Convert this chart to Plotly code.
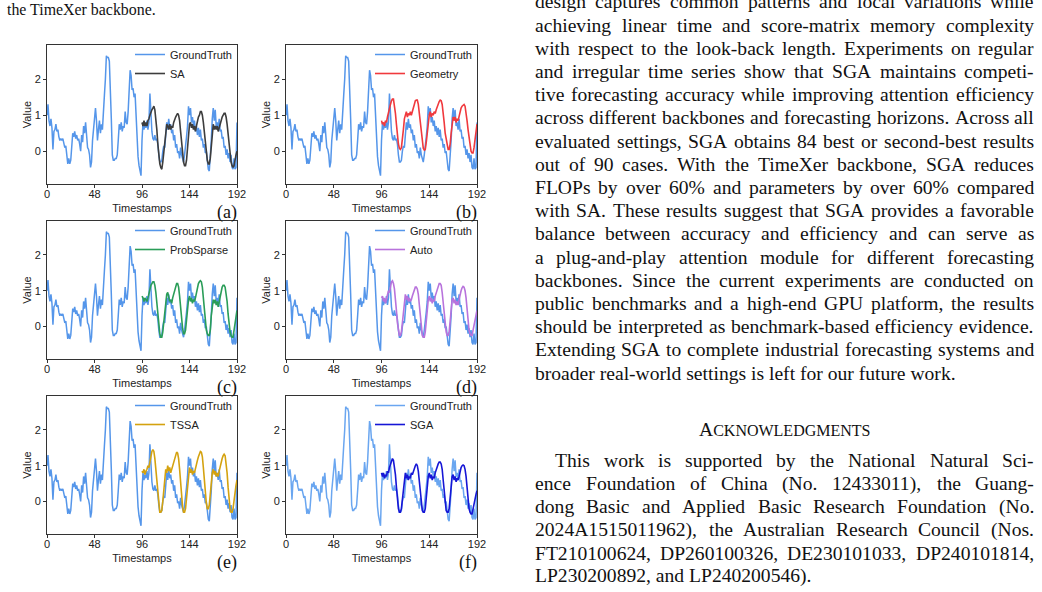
import plotly.graph_objects as go

W, H = 1042, 592

# ---------------- data ----------------
t_all = list(range(0, 193))
t_fc = list(range(96, 193))

ground_truth = [
    1.0, 1.3, 0.85, 0.7, 0.9, 0.65, 0.05, 0.55, 0.6, 0.75,
    0.55, 0.6, 0.4, 0.3, 0.35, 0.3, 0.35, 0.25, 0.1, 0.15,
    -0.05, -0.35, -0.2, -0.35, -0.25, 0.1, 0.5, 0.4, 0.55, 0.35,
    0.45, 0.3, 0.35, 0.2, 0.0, 0.45, 0.25, 0.7, 0.5, 0.8,
    0.35, 0.1, 0.05, -0.1, -0.45, -0.3, 0.3, 0.55, 0.95, 1.2,
    0.85, 0.3, 0.6, 0.85, 0.5, 0.75, 0.6, 1.3, 1.55, 2.0,
    2.65, 2.6, 2.6, 2.5, 1.9, 0.9, -0.1, -0.25, -0.25, -0.2,
    -0.2, -0.1, 0.3, 0.75, 0.6, 0.8, 0.55, 0.7, 0.65, 1.1,
    0.8, 0.75, 1.1, 1.6, 2.25, 2.1, 1.7, 1.75, 1.5, 1.6,
    0.9, 0.3, -0.15, -0.4, -0.6, -0.68,
    0.3, 0.8, 0.6, 0.75, 0.65, 0.85, 0.6, 0.8, 1.6, 1.0,
    0.55, 0.35, 0.3, 0.45, 0.3, 0.35, 0.2, -0.1, -0.3, -0.3,
    -0.25, 0.0, 0.15, 0.1, 0.55, 0.8, 0.6, 0.9, 0.65, 0.75,
    0.5, 0.6, 0.3, 0.45, 0.1, 0.2, -0.05, 0.0, -0.2, 0.1,
    -0.1, -0.25, -0.3, -0.1, 0.1, 0.4, 0.7, 1.25, 1.0, 1.2,
    0.8, 0.95, 0.7, 0.85, 0.55, 0.7, 0.45, 0.65, 0.4, 0.6,
    0.3, 0.35, 0.1, 0.2, -0.05, 0.0, -0.25, -0.5, -0.55, -0.2,
    0.3, 0.9, 1.2, 0.85, 1.15, 0.7, 0.8, 0.6, 0.9, 0.55,
    0.6, 0.35, 0.4, 0.1, 0.15, -0.1, 0.05, -0.2, -0.05, -0.3,
    -0.1, -0.45, -0.5, -0.2, -0.5, -0.45, 0.8,
]

sa_pred = [
    0.8, 0.7, 0.85, 0.7, 0.8, 0.7, 0.85, 0.9, 1.0, 1.1, 1.15, 1.2,
    1.25, 1.15, 0.95, 0.6, 0.2, -0.15, -0.35, -0.45, -0.5, -0.3, 0.0, 0.35,
    0.55, 0.75, 0.7, 0.6, 0.75, 0.6, 0.7, 0.65, 0.8, 0.9, 0.95, 1.0,
    1.05, 1.0, 0.85, 0.55, 0.2, -0.1, -0.3, -0.4, -0.4, -0.25, 0.1, 0.45,
    0.75, 0.8, 0.65, 0.75, 0.6, 0.7, 0.55, 0.7, 0.85, 0.95, 1.0, 1.1,
    1.1, 1.0, 0.8, 0.5, 0.15, -0.1, -0.25, -0.35, -0.35, -0.2, 0.2, 0.55,
    0.75, 0.6, 0.7, 0.6, 0.7, 0.55, 0.65, 0.8, 0.9, 0.95, 1.0, 1.05,
    1.05, 0.95, 0.75, 0.45, 0.1, -0.15, -0.3, -0.4, -0.45, -0.4, -0.2, -0.1,
    0.0,
]

geometry_pred = [
    0.85, 0.75, 0.8, 0.7, 0.85, 0.8, 0.95, 1.1, 1.15, 1.3, 1.4, 1.45,
    1.45, 1.3, 1.05, 0.75, 0.45, 0.2, 0.08, 0.05, 0.1, 0.3, 0.6, 0.9,
    1.0, 1.1, 0.95, 1.05, 1.0, 1.1, 1.0, 1.15, 1.2, 1.3, 1.4, 1.42,
    1.42, 1.3, 1.05, 0.75, 0.45, 0.2, 0.08, 0.03, 0.05, 0.25, 0.55, 0.85,
    1.0, 1.1, 0.95, 1.05, 1.0, 1.1, 1.05, 1.15, 1.25, 1.3, 1.38, 1.42,
    1.4, 1.3, 1.1, 0.8, 0.5, 0.3, 0.15, 0.05, 0.05, 0.2, 0.5, 0.8,
    0.95, 0.85, 0.95, 0.8, 0.9, 0.85, 1.0, 1.1, 1.2, 1.25, 1.28, 1.3,
    1.25, 1.1, 0.85, 0.6, 0.35, 0.15, 0.0, -0.05, -0.05, 0.1, 0.35, 0.55,
    0.75,
]

probsparse_pred = [
    0.85, 0.8, 0.7, 0.8, 0.75, 0.7, 0.8, 0.95, 1.05, 1.15, 1.2, 1.25,
    1.25, 1.15, 0.95, 0.65, 0.3, 0.0, -0.2, -0.3, -0.3, -0.15, 0.15, 0.5,
    0.75, 0.9, 0.95, 0.85, 0.7, 0.75, 0.65, 0.8, 0.9, 1.05, 1.15, 1.2,
    1.2, 1.1, 0.85, 0.5, 0.15, -0.05, -0.2, -0.2, -0.1, 0.2, 0.5, 0.75,
    0.85, 0.7, 0.8, 0.65, 0.75, 0.7, 0.8, 0.95, 1.1, 1.2, 1.25, 1.28,
    1.25, 1.1, 0.8, 0.45, 0.1, -0.1, -0.2, -0.25, -0.25, -0.1, 0.3, 0.6,
    0.75, 0.65, 0.75, 0.6, 0.7, 0.55, 0.7, 0.85, 1.0, 1.1, 1.15, 1.15,
    1.1, 0.95, 0.7, 0.35, 0.05, -0.15, -0.25, -0.3, -0.3, -0.1, 0.1, 0.25,
    0.45,
]

auto_pred = [
    0.8, 0.85, 0.7, 0.8, 0.65, 0.75, 0.85, 1.0, 0.95, 1.15, 1.25, 1.28,
    1.2, 1.05, 0.8, 0.45, 0.1, -0.1, -0.25, -0.25, -0.15, 0.1, 0.4, 0.7,
    0.9, 0.75, 0.85, 0.7, 0.8, 0.7, 0.75, 0.85, 0.95, 1.05, 1.1, 1.1,
    1.05, 0.9, 0.6, 0.25, -0.05, -0.25, -0.3, -0.3, -0.15, 0.15, 0.5, 0.75,
    0.85, 0.7, 0.8, 0.65, 0.75, 0.7, 0.85, 0.95, 1.05, 1.15, 1.2, 1.2,
    1.15, 0.95, 0.65, 0.3, 0.0, -0.15, -0.25, -0.25, -0.15, 0.15, 0.5, 0.75,
    0.8, 0.65, 0.75, 0.6, 0.7, 0.6, 0.75, 0.9, 1.0, 1.08, 1.12, 1.1,
    1.0, 0.8, 0.5, 0.15, -0.1, -0.2, -0.25, -0.25, -0.1, 0.05, 0.2, 0.35,
    0.45,
]

tssa_pred = [
    0.85, 0.8, 0.9, 0.75, 0.85, 0.9, 1.0, 0.95, 1.1, 1.3, 1.4, 1.45,
    1.4, 1.2, 0.9, 0.5, 0.1, -0.15, -0.3, -0.3, -0.25, 0.0, 0.35, 0.7,
    0.9, 0.8, 1.0, 0.85, 0.95, 0.8, 0.9, 1.0, 1.1, 1.2, 1.3, 1.38,
    1.35, 1.2, 0.9, 0.5, 0.1, -0.15, -0.3, -0.3, -0.2, 0.1, 0.5, 0.8,
    0.95, 0.8, 0.9, 0.75, 0.85, 0.8, 0.95, 1.05, 1.15, 1.25, 1.35, 1.4,
    1.38, 1.25, 0.95, 0.55, 0.2, -0.05, -0.2, -0.2, -0.1, 0.2, 0.55, 0.8,
    0.9, 0.75, 0.85, 0.7, 0.8, 0.7, 0.85, 1.0, 1.1, 1.2, 1.28, 1.32,
    1.28, 1.1, 0.8, 0.4, 0.05, -0.2, -0.3, -0.3, -0.2, 0.05, 0.3, 0.45,
    0.6,
]

sga_pred = [
    0.8, 0.7, 0.8, 0.65, 0.75, 0.7, 0.85, 0.8, 0.95, 1.05, 1.15, 1.2,
    1.15, 1.0, 0.75, 0.4, 0.05, -0.2, -0.3, -0.3, -0.2, 0.05, 0.4, 0.65,
    0.8, 0.65, 0.75, 0.6, 0.7, 0.65, 0.8, 0.75, 0.85, 0.95, 1.0, 1.05,
    1.0, 0.85, 0.55, 0.2, -0.1, -0.25, -0.3, -0.3, -0.2, 0.1, 0.45, 0.7,
    0.8, 0.65, 0.75, 0.6, 0.7, 0.65, 0.8, 0.9, 1.0, 1.05, 1.1, 1.1,
    1.05, 0.9, 0.6, 0.25, -0.05, -0.25, -0.3, -0.3, -0.2, 0.1, 0.45, 0.7,
    0.75, 0.6, 0.7, 0.55, 0.65, 0.6, 0.7, 0.85, 0.95, 1.0, 1.02, 1.0,
    0.9, 0.7, 0.4, 0.05, -0.2, -0.3, -0.35, -0.35, -0.2, 0.0, 0.1, 0.2,
    0.3,
]

model_names = ["SA", "Geometry", "ProbSparse", "Auto", "TSSA", "SGA"]
panel_tags = ["(a)", "(b)", "(c)", "(d)", "(e)", "(f)"]
x_ticks = [0, 48, 96, 144, 192]
y_ticks = [0, 1, 2]

caption_tail = "the TimeXer backbone."
para1 = [
    "design captures common patterns and local variations while",
    "achieving linear time and score-matrix memory complexity",
    "with respect to the look-back length. Experiments on regular",
    "and irregular time series show that SGA maintains competi-",
    "tive forecasting accuracy while improving attention efficiency",
    "across different backbones and forecasting horizons. Across all",
    "evaluated settings, SGA obtains 84 best or second-best results",
    "out of 90 cases. With the TimeXer backbone, SGA reduces",
    "FLOPs by over 60% and parameters by over 60% compared",
    "with SA. These results suggest that SGA provides a favorable",
    "balance between accuracy and efficiency and can serve as",
    "a plug-and-play attention module for different forecasting",
    "backbones. Since the current experiments are conducted on",
    "public benchmarks and a high-end GPU platform, the results",
    "should be interpreted as benchmark-based efficiency evidence.",
    "Extending SGA to complete industrial forecasting systems and",
    "broader real-world settings is left for our future work.",
]
heading = ("A", "CKNOWLEDGMENTS")
para2 = [
    "This work is supported by the National Natural Sci-",
    "ence Foundation of China (No. 12433011), the Guang-",
    "dong Basic and Applied Basic Research Foundation (No.",
    "2024A1515011962), the Australian Research Council (Nos.",
    "FT210100624, DP260100326, DE230101033, DP240101814,",
    "LP230200892, and LP240200546).",
]

# ---------------- styles ----------------
model_series = [sa_pred, geometry_pred, probsparse_pred, auto_pred, tssa_pred, sga_pred]
model_colors = ["#3d3d3d", "#f0393d", "#2a9d58", "#b873dc", "#d4a20f", "#1616d6"]
gt_colors = ["#5596ea", "#5596ea", "#5596ea", "#5596ea", "#5596ea", "#6aa6f0"]

SANS = "Liberation Sans, Arial, sans-serif"
SERIF = "Liberation Serif, Times New Roman, serif"
INK = "#222222"

col_px = [(47, 237), (286, 477)]
row_px = [(45, 184), (221, 359), (396, 534)]

fig = go.Figure()
layout = dict(
    width=W, height=H, margin=dict(l=0, r=0, t=0, b=0),
    paper_bgcolor="white", plot_bgcolor="white",
    font=dict(family=SANS, size=11, color=INK),
    showlegend=True,
)
annotations = []

for i in range(6):
    r, c = divmod(i, 2)
    sfx = "" if i == 0 else str(i + 1)
    x0, x1 = col_px[c]
    y0, y1 = row_px[r]
    legend_id = "legend" + sfx
    fig.add_trace(go.Scatter(
        x=t_all, y=ground_truth, mode="lines", name="GroundTruth",
        line=dict(color=gt_colors[i], width=1.5),
        xaxis="x" + sfx, yaxis="y" + sfx, legend=legend_id,
    ))
    fig.add_trace(go.Scatter(
        x=t_fc, y=model_series[i], mode="lines", name=model_names[i],
        line=dict(color=model_colors[i], width=1.6),
        xaxis="x" + sfx, yaxis="y" + sfx, legend=legend_id,
    ))
    axis_common = dict(
        showline=True, mirror=True, linecolor="#333333", linewidth=1,
        ticks="outside", ticklen=3, tickwidth=1, tickcolor="#333333",
        showgrid=False, zeroline=False, automargin=False,
        tickfont=dict(family=SANS, size=11, color=INK),
    )
    layout["xaxis" + sfx] = dict(
        axis_common, domain=[x0 / W, x1 / W], anchor="y" + sfx,
        range=[0, 192], tickvals=x_ticks, ticklabelstandoff=-3,
        title=dict(text="Timestamps", font=dict(family=SANS, size=11, color=INK), standoff=5),
    )
    layout["yaxis" + sfx] = dict(
        axis_common, domain=[1 - y1 / H, 1 - y0 / H], anchor="x" + sfx,
        range=[-0.91, 2.95], tickvals=y_ticks,
        title=dict(text="Value", font=dict(family=SANS, size=11, color=INK), standoff=0),
    )
    layout[legend_id] = dict(
        x=x1 / W, xanchor="right", y=1 - (y0 - 5) / H, yanchor="top",
        bgcolor="rgba(0,0,0,0)", borderwidth=0, itemwidth=30,
        font=dict(family=SANS, size=11, color=INK), tracegroupgap=0,
        traceorder="normal",
    )
    annotations.append(dict(
        text=panel_tags[i], x=x1 / W, xanchor="right", xref="paper",
        y=1 - (y1 + 28) / H, yanchor="middle", yref="paper", showarrow=False,
        font=dict(family=SERIF, size=18, color="#111111"), borderpad=0, borderwidth=0,
    ))

# ---------------- page text (justified like the paper) ----------------
TIMES_W = {
    " ": 250, "!": 333, "%": 833, "(": 333, ")": 333, ",": 250, "-": 333, ".": 250,
    ":": 278, ";": 278, "?": 444,
    "A": 722, "B": 667, "C": 667, "D": 722, "E": 611, "F": 556, "G": 722, "H": 722,
    "I": 333, "J": 389, "K": 722, "L": 611, "M": 889, "N": 722, "O": 722, "P": 556,
    "Q": 722, "R": 667, "S": 556, "T": 611, "U": 722, "V": 722, "W": 944, "X": 722,
    "Y": 722, "Z": 611,
    "a": 444, "b": 500, "c": 444, "d": 500, "e": 444, "f": 333, "g": 500, "h": 500,
    "i": 278, "j": 278, "k": 500, "l": 278, "m": 778, "n": 500, "o": 500, "p": 500,
    "q": 500, "r": 333, "s": 389, "t": 278, "u": 500, "v": 500, "w": 722, "x": 500,
    "y": 500, "z": 444,
}


def text_w(s, fs):
    return sum(TIMES_W.get(ch, 500) for ch in s) * fs / 1000.0


FS = 19.6
COL_L, COL_R = 535.0, 1034.0
LINE = 23.2


def add_line(line, left, right, baseline, fs, justify):
    yc = baseline - 0.3375 * fs
    if not justify:
        annotations.append(dict(
            text=line, x=left / W, xanchor="left", xref="paper",
            y=1 - yc / H, yanchor="middle", yref="paper", showarrow=False,
            font=dict(family=SERIF, size=fs, color="#111111"), borderpad=0, borderwidth=0,
        ))
        return
    words = line.split(" ")
    widths = [text_w(w, fs) for w in words]
    gap = (right - left - sum(widths)) / (len(words) - 1)
    x = left
    for w, wd in zip(words, widths):
        annotations.append(dict(
            text=w, x=x / W, xanchor="left", xref="paper",
            y=1 - yc / H, yanchor="middle", yref="paper", showarrow=False,
            font=dict(family=SERIF, size=fs, color="#111111"), borderpad=0, borderwidth=0,
        ))
        x += wd + gap


# figure caption tail (left column)
add_line(caption_tail, 7, 0, 15.0, 15.9, False)

base0 = 8.5
for k, line in enumerate(para1):
    add_line(line, COL_L, COL_R, base0 + k * LINE, FS, k < len(para1) - 1)

# heading in small caps
annotations.append(dict(
    text=heading[0] + "<span style='font-size:16px'>" + heading[1] + "</span>",
    x=(COL_L + COL_R) / 2 / W, xanchor="center", xref="paper",
    y=1 - (436 - 0.3375 * FS) / H, yanchor="middle", yref="paper", showarrow=False,
    font=dict(family=SERIF, size=FS, color="#111111"), borderpad=0, borderwidth=0,
))

base2 = 583.0 - 5 * LINE
for k, line in enumerate(para2):
    left = COL_L + (FS if k == 0 else 0)
    add_line(line, left, COL_R, base2 + k * LINE, FS, k < len(para2) - 1)

layout["annotations"] = annotations
fig.update_layout(**layout)
fig.write_html("out.html")
